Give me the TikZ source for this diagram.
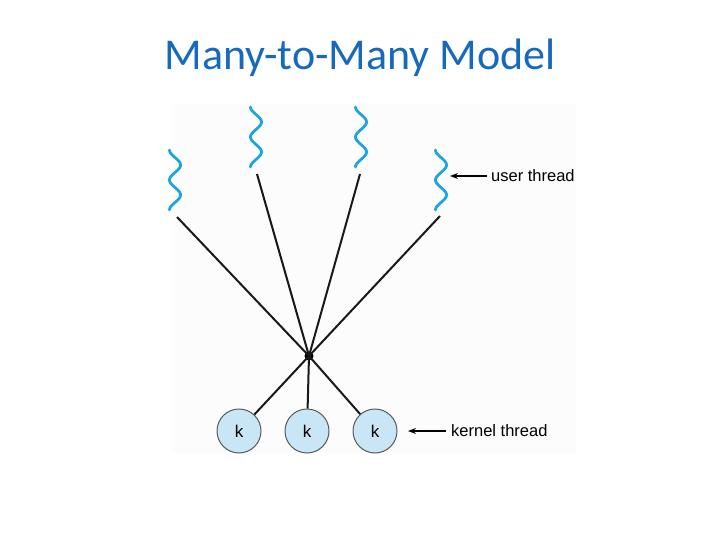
\documentclass[tikz,border=0pt]{standalone}
\usepackage{fontspec}
\setmainfont{Liberation Sans}
\newfontfamily\titlefont{Carlito}
\usetikzlibrary{arrows.meta}
\definecolor{titleblue}{RGB}{22,106,190}
\definecolor{wavecyan}{RGB}{30,165,220}
\definecolor{kfill}{RGB}{200,230,246}
\definecolor{kdraw}{RGB}{90,90,90}
\tikzset{
  wave/.style={draw=wavecyan, line width=2.8pt, line cap=round},
  conn/.style={draw=black!90, line width=2pt},
  kcircle/.style={circle, draw=kdraw, line width=1pt, fill=kfill, minimum size=44pt, inner sep=0pt, font=\fontsize{17}{20}\selectfont},
  lbl/.style={font=\fontsize{16.5}{19}\selectfont, anchor=west, inner sep=0pt},
  pointer/.style={draw=black, line width=1.2pt, -{Stealth[length=8pt,width=6pt]}}
}
\begin{document}
\begin{tikzpicture}[x=1pt,y=-1pt]
\useasboundingbox (0,0) rectangle (720,540);
\fill[black!1] (172,104) rectangle (576,453);
\node[text=titleblue, font=\titlefont\fontsize{44}{52}\selectfont, anchor=base] (title) at (360,70) {Many-to-Many Model};
% user threads (wavy lines)
\draw[wave] plot[domain=0:60, samples=80, smooth] ({175-5.5*cos(\x*12)}, {150+\x});
\draw[wave] plot[domain=0:60, samples=80, smooth] ({256-5.5*cos(\x*12)}, {107+\x});
\draw[wave] plot[domain=0:60, samples=80, smooth] ({361-5.5*cos(\x*12)}, {107+\x});
\draw[wave] plot[domain=0:60, samples=80, smooth] ({441-5.5*cos(\x*12)}, {150+\x});
\coordinate (u1) at (177,217);
\coordinate (u2) at (257,174);
\coordinate (u3) at (360,174);
\coordinate (u4) at (440,216);
% central junction
\node[circle, fill=black, minimum size=9pt, inner sep=0pt] (hub) at (309,356) {};
% kernel threads
\node[kcircle] (k1) at (239,431) {k};
\node[kcircle] (k2) at (307,431) {k};
\node[kcircle] (k3) at (375,431) {k};
% connectors
\draw[conn] (u1) -- (hub.center);
\draw[conn] (u2) -- (hub.center);
\draw[conn] (u3) -- (hub.center);
\draw[conn] (u4) -- (hub.center);
\draw[conn] (hub.center) -- (k1);
\draw[conn] (hub.center) -- (k2);
\draw[conn] (hub.center) -- (k3);
% labels
\node[lbl] (ulbl) at (491,176) {user thread};
\node[lbl] (klbl) at (451,431) {kernel thread};
\coordinate (utip) at (450,176);
\coordinate (ktip) at (408,431);
\draw[pointer] (ulbl.west) ++(-4,0) -- (utip);
\draw[pointer] (klbl.west) ++(-5,0) -- (ktip);
\end{tikzpicture}
\end{document}
